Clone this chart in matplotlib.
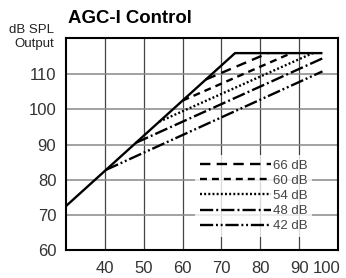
import matplotlib
matplotlib.use("Agg")
import matplotlib.pyplot as plt
import matplotlib.transforms as mtransforms

plt.rcParams['font.family'] = ['Liberation Sans', 'DejaVu Sans']
plt.rcParams['lines.scale_dashes'] = False

# ---- data (input dB SPL -> output dB SPL) ----
linear_in = [30, 73.5, 96]
linear_out = [72.5, 116, 116]

labels = ["66 dB", "60 dB", "54 dB", "48 dB", "42 dB"]
curve_in = [[66, 82], [60, 88], [54, 93.5], [48, 96], [40.3, 96]]
curve_out = [[108.5, 116], [102.5, 116], [96.5, 116], [90.5, 114.5], [82.8, 110.8]]

x_ticks = [40, 50, 60, 70, 80, 90, 100]
y_ticks = [60, 70, 80, 90, 100, 110]

dash_styles = [(0, (7.5, 4.5)), (0, (5, 3.6)), (0, (1.4, 1.6)),
               (0, (9.5, 2.2, 1.4, 2.2)), (0, (9.5, 2, 1.4, 2, 1.4, 2))]

fig = plt.figure(figsize=(3.46, 2.78), dpi=100)
ax = fig.add_axes([66/346, 1-250/278, 272/346, 212/278])
ax.set_xlim(30, 100)
ax.set_ylim(60, 120.3)

for x in [40, 50, 60, 70, 80, 90]:
    ax.axvline(x, color='#444444', lw=0.9, zorder=1)
for y in [70, 80, 90, 100, 110]:
    ax.axhline(y, color='#888888', lw=1.1, zorder=1)

ax.plot(linear_in, linear_out, color='black', lw=1.7, zorder=3,
        solid_capstyle='butt')
handles = []
for xi, yi, lab, ds in zip(curve_in, curve_out, labels, dash_styles):
    h, = ax.plot(xi, yi, color='black', lw=1.7, linestyle=ds, label=lab,
                 zorder=3, dash_capstyle='butt')
    handles.append(h)

for s in ax.spines.values():
    s.set_linewidth(1.5)
    s.set_color('black')
    s.set_zorder(5)

ax.set_xticks(x_ticks)
ax.set_yticks(y_ticks)
ax.tick_params(length=0, labelsize=12, colors='#333333')
ax.tick_params(axis='y', pad=7)
ax.tick_params(axis='x', pad=8)
ax.set_xticklabels([str(v) for v in x_ticks])
ax.set_yticklabels([str(v) for v in y_ticks])
last = ax.get_xticklabels()[-1]
last.set_horizontalalignment('right')
last.set_transform(last.get_transform() +
                   mtransforms.ScaledTranslation(2/100, 0, fig.dpi_scale_trans))

leg = ax.legend(handles=handles, loc='center', bbox_to_anchor=(0.69, 0.255),
                frameon=True, fontsize=9.5, handlelength=5.4, handletextpad=0.15,
                labelspacing=0.22, borderpad=0.35, fancybox=False)
leg.get_frame().set_facecolor('white')
leg.get_frame().set_edgecolor('none')
leg.set_zorder(4)
for t in leg.get_texts():
    t.set_color('#444444')

fig.text(68/346, 1-23.3/278, "AGC-I Control", fontsize=13.4, fontweight='bold',
         ha='left', va='baseline', color='black')
fig.text(54/346, 1-33/278, "dB SPL", fontsize=9.5, ha='right', va='baseline',
         color='#222222')
fig.text(54/346, 1-47/278, "Output", fontsize=9.5, ha='right', va='baseline',
         color='#222222')

fig.savefig("out.png", dpi=100)
